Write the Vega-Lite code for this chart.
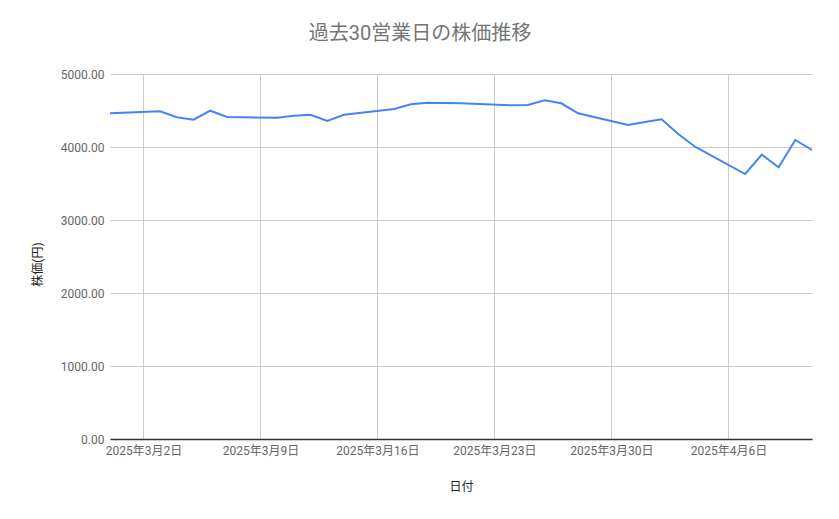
{
  "$schema": "https://vega.github.io/schema/vega-lite/v6.json",
  "width": 702,
  "height": 365,
  "autosize": {"type": "none"},
  "padding": {"left": 110, "top": 74, "right": 27, "bottom": 80},
  "background": "white",
  "title": {
    "text": "過去30営業日の株価推移",
    "anchor": "middle",
    "dx": -41,
    "offset": 24,
    "fontSize": 20,
    "fontWeight": "normal",
    "color": "#757575",
    "font": "Roboto, Noto Sans CJK JP"
  },
  "data": {
    "values": [
      {"date": "2025/02/28", "price": 4462},
      {"date": "2025/03/03", "price": 4489},
      {"date": "2025/03/04", "price": 4407},
      {"date": "2025/03/05", "price": 4374},
      {"date": "2025/03/06", "price": 4497},
      {"date": "2025/03/07", "price": 4411},
      {"date": "2025/03/10", "price": 4401},
      {"date": "2025/03/11", "price": 4429},
      {"date": "2025/03/12", "price": 4442},
      {"date": "2025/03/13", "price": 4356},
      {"date": "2025/03/14", "price": 4442},
      {"date": "2025/03/17", "price": 4521},
      {"date": "2025/03/18", "price": 4585},
      {"date": "2025/03/19", "price": 4607},
      {"date": "2025/03/21", "price": 4600},
      {"date": "2025/03/24", "price": 4571},
      {"date": "2025/03/25", "price": 4575},
      {"date": "2025/03/26", "price": 4640},
      {"date": "2025/03/27", "price": 4599},
      {"date": "2025/03/28", "price": 4462},
      {"date": "2025/03/31", "price": 4301},
      {"date": "2025/04/01", "price": 4342},
      {"date": "2025/04/02", "price": 4379},
      {"date": "2025/04/03", "price": 4178},
      {"date": "2025/04/04", "price": 4004},
      {"date": "2025/04/07", "price": 3630},
      {"date": "2025/04/08", "price": 3895},
      {"date": "2025/04/09", "price": 3722},
      {"date": "2025/04/10", "price": 4096},
      {"date": "2025/04/11", "price": 3959}
    ]
  },
  "mark": {"type": "line", "color": "#4285f4", "strokeWidth": 2},
  "encoding": {
    "x": {
      "field": "date",
      "type": "temporal",
      "title": "日付",
      "scale": {"domain": [{"year": 2025, "month": 2, "date": 28}, {"year": 2025, "month": 4, "date": 11}]},
      "axis": {
        "values": [
          {"year": 2025, "month": 3, "date": 2},
          {"year": 2025, "month": 3, "date": 9},
          {"year": 2025, "month": 3, "date": 16},
          {"year": 2025, "month": 3, "date": 23},
          {"year": 2025, "month": 3, "date": 30},
          {"year": 2025, "month": 4, "date": 6}
        ],
        "format": "%Y年%-m月%-d日",
        "domainColor": "#333333",
        "domainWidth": 1.5,
        "ticks": false,
        "labelPadding": 6,
        "titlePadding": 25
      }
    },
    "y": {
      "field": "price",
      "type": "quantitative",
      "title": "株価(円)",
      "scale": {"domain": [0, 5000]},
      "axis": {
        "values": [0, 1000, 2000, 3000, 4000, 5000],
        "format": ".2f",
        "domain": false,
        "ticks": false,
        "labelPadding": 6,
        "titlePadding": 16,
        "titleY": 190
      }
    }
  },
  "config": {
    "font": "Roboto",
    "view": {"stroke": null},
    "axis": {
      "gridColor": "#cccccc",
      "labelColor": "#666666",
      "labelFontSize": 12,
      "labelFont": "Roboto, Noto Sans CJK JP",
      "titleColor": "#222222",
      "titleFont": "Roboto, Noto Sans CJK JP",
      "titleFontSize": 12,
      "titleFontWeight": "normal"
    }
  }
}
